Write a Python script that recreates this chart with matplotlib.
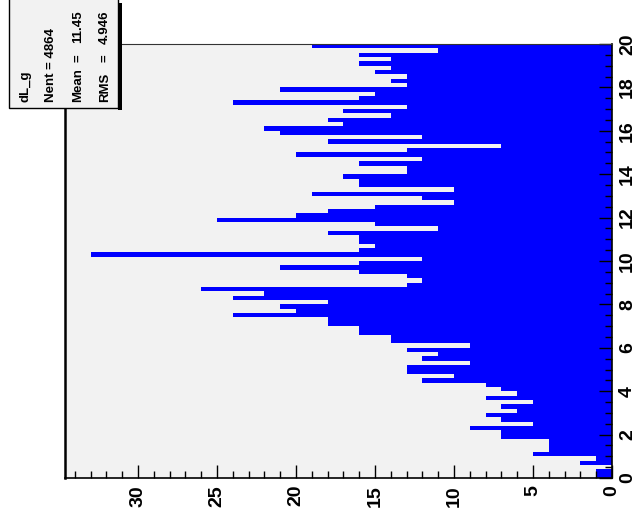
import numpy as np
import matplotlib
matplotlib.use('Agg')
import matplotlib.pyplot as plt
from matplotlib.patches import Rectangle
from matplotlib.ticker import MultipleLocator

plt.rcParams['font.family'] = ['Liberation Sans', 'DejaVu Sans']
plt.rcParams['font.weight'] = 'bold'

# histogram dL_g : 100 bins from 0 to 20
bin_lo = 0.0
bin_hi = 20.0
counts = [1, 1, 0, 2, 1, 5, 4, 4, 4, 7,
          7, 9, 5, 7, 8, 6, 7, 5, 8, 6,
          7, 8, 12, 10, 13, 13, 9, 12, 11, 13,
          9, 14, 14, 16, 16, 18, 18, 24, 20, 21,
          18, 24, 22, 26, 13, 12, 13, 16, 21, 16,
          12, 33, 16, 15, 16, 16, 18, 11, 15, 25,
          20, 18, 15, 10, 12, 19, 10, 16, 16, 17,
          13, 13, 16, 12, 20, 13, 7, 18, 12, 21,
          22, 17, 18, 14, 17, 13, 24, 16, 15, 21,
          13, 14, 13, 15, 14, 16, 14, 16, 11, 19]
stat_names = ['Nent', 'Mean', 'RMS']
stat_values = ['4864', '11.45', '4.946']
hist_title = 'dL_g'

W, H = 641, 511
fig = plt.figure(figsize=(W / 100, H / 100), dpi=100)
fig.patch.set_facecolor('white')

def fx(x):
    return x / W

def fy(y):
    return 1 - y / H

ax = fig.add_axes([fx(64.5), fy(478), (612 - 64.5) / W, (478 - 44) / H])
ax.set_facecolor('#f2f2f2')

counts = np.array(counts)
edges = np.linspace(bin_lo, bin_hi, len(counts) + 1)
ax.barh(edges[:-1], counts, height=edges[1] - edges[0], align='edge',
        color='#0000ff', edgecolor='none', linewidth=0)

ax.set_xlim(counts.max() * 1.05, 0)
ax.set_ylim(bin_lo, bin_hi)

ax.xaxis.set_major_locator(MultipleLocator(5))
ax.xaxis.set_minor_locator(MultipleLocator(1))
ax.yaxis.set_major_locator(MultipleLocator(2))
ax.yaxis.set_minor_locator(MultipleLocator(0.5))
ax.yaxis.tick_right()
ax.tick_params(axis='both', which='both', direction='in', color='black')
ax.tick_params(axis='x', which='major', length=9.5, width=1, pad=5,
               labelsize=14, labelrotation=90)
ax.tick_params(axis='x', which='minor', length=4.7, width=1)
ax.tick_params(axis='y', which='major', length=9.5, width=1, pad=5,
               labelsize=14, labelrotation=90, left=False, right=True)
ax.tick_params(axis='y', which='minor', length=4.7, width=1,
               left=False, right=True)
ax.set_xticks(range(0, 31, 5))
ax.set_xticklabels([str(v) for v in range(0, 31, 5)], fontweight='bold')
ax.set_yticks(range(0, 21, 2))
ax.set_yticklabels([str(v) for v in range(0, 21, 2)], fontweight='bold')
for lab in ax.get_yticklabels():
    lab.set_verticalalignment('center')

for side in ['left', 'bottom', 'right']:
    ax.spines[side].set_color('black')
    ax.spines[side].set_linewidth(1.2)
ax.spines['left'].set_linewidth(1.8)
ax.spines['top'].set_color('#333333')
ax.spines['top'].set_linewidth(0.8)

# stats box (rotated like the rest of the canvas)
fig.patches.append(Rectangle((fx(118), fy(110)), 4 / W, 107 / H,
                             transform=fig.transFigure, facecolor='black',
                             edgecolor='none', zorder=5))
fig.patches.append(Rectangle((fx(9), fy(108)), 109 / W, 112 / H,
                             transform=fig.transFigure, facecolor='#f2f2f2',
                             edgecolor='black', linewidth=1, zorder=6))

txt = dict(rotation=90, rotation_mode='anchor', fontsize=9.5,
           fontweight='bold', transform=fig.transFigure, zorder=7,
           va='center')
fig.text(fx(25), fy(102), hist_title, ha='left', **txt)
fig.text(fx(51), fy(102), f'{stat_names[0]} = {stat_values[0]}', ha='left', **txt)
for i, (name, val) in enumerate(zip(stat_names[1:], stat_values[1:])):
    xc = 78 + i * 27
    fig.text(fx(xc), fy(102), name, ha='left', **txt)
    fig.text(fx(xc), fy(58), '=', ha='center', **txt)
    fig.text(fx(xc), fy(10), val, ha='right', **txt)

fig.savefig('out.png', dpi=100)
